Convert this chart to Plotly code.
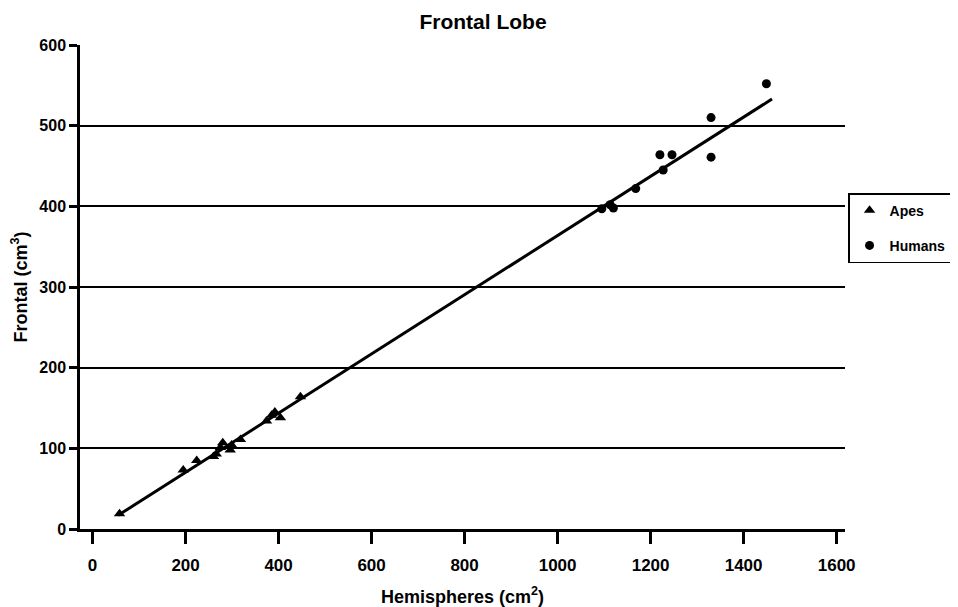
import plotly.graph_objects as go

# Apes: hemisphere volume (cm^2 as labelled) vs frontal (cm^3)
apes_x = [58, 195, 224, 260, 266, 275, 280, 296, 299, 318, 374, 385, 392, 404, 447]
apes_y = [19, 73, 85, 90, 93, 101, 107, 98, 104, 111, 134, 141, 145, 138, 164]

humans_x = [1095, 1113, 1120, 1168, 1220, 1227, 1246, 1330, 1330, 1449]
humans_y = [397, 402, 398, 422, 464, 445, 464, 510, 461, 552]

# regression line endpoints
fit_x = [55, 1461]
fit_y = [17, 533]

x_ticks = [0, 200, 400, 600, 800, 1000, 1200, 1400, 1600]
y_ticks = [0, 100, 200, 300, 400, 500, 600]

FONT = "Liberation Sans, Arial, sans-serif"

fig = go.Figure()
fig.add_trace(go.Scatter(x=fit_x, y=fit_y, mode="lines",
                         line=dict(color="black", width=3), showlegend=False,
                         hoverinfo="skip"))
fig.add_trace(go.Scatter(x=apes_x, y=apes_y, mode="markers", name="Apes",
                         legendgroup="a",
                         marker=dict(symbol="triangle-up", size=10, color="black")))
fig.add_trace(go.Scatter(x=humans_x, y=humans_y, mode="markers", name="Humans",
                         legendgroup="b",
                         marker=dict(symbol="circle", size=9, color="black")))

fig.update_layout(
    width=950, height=599,
    margin=dict(l=72, r=113, t=37, b=78, autoexpand=False),
    paper_bgcolor="white", plot_bgcolor="white",
    font=dict(family=FONT, size=17, color="black", weight="bold"),
    title=dict(text="Frontal Lobe", x=0.5, xref="container", xanchor="center",
               y=0.977, yref="container", yanchor="middle",
               font=dict(family=FONT, size=21, weight="bold")),
    legend=dict(x=1.004, xanchor="left", y=0.694, yanchor="top",
                bordercolor="black", borderwidth=1.5, bgcolor="white",
                itemwidth=30, tracegroupgap=14, traceorder="grouped",
                font=dict(family=FONT, size=14, weight="bold")),
    xaxis=dict(range=[-27, 1618], tickmode="array", tickvals=x_ticks,
               showgrid=False, zeroline=False, showline=True, automargin=False,
               linecolor="black", linewidth=2.5,
               ticks="outside", ticklen=12, tickwidth=2.5, tickcolor="black",
               ticklabelstandoff=7,
               title=dict(text="Hemispheres (cm<sup>2</sup>)", standoff=17,
                          font=dict(family=FONT, size=18, weight="bold"))),
    yaxis=dict(range=[0, 600], tickmode="array", tickvals=y_ticks,
               showgrid=True, gridcolor="black", gridwidth=1.8,
               zeroline=False, showline=True, automargin=False,
               linecolor="black", linewidth=2.5,
               ticks="outside", ticklen=8, tickwidth=2.5, tickcolor="black",
               tickfont=dict(family=FONT, size=16, weight="bold"),
               title=dict(text="Frontal (cm<sup>3</sup>)", standoff=12,
                          font=dict(family=FONT, size=18, weight="bold"))),
)

fig.write_html("out.html")
